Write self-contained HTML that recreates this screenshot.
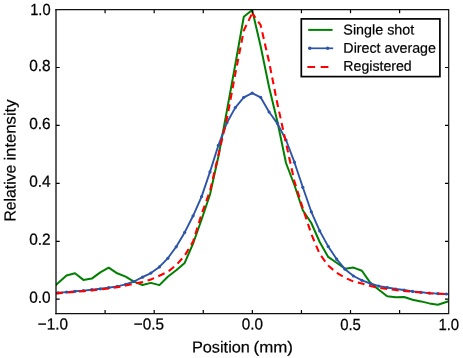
<!DOCTYPE html>
<html><head><meta charset="utf-8"><title>chart</title>
<style>html,body{margin:0;padding:0;background:#fff}svg{display:block;will-change:transform}text{font-family:"Liberation Sans",sans-serif;fill:#000;text-rendering:geometricPrecision}</style></head><body>
<svg width="463" height="358" viewBox="0 0 463 358">
<rect width="463" height="358" fill="#fff"/>
<defs><clipPath id="c"><rect x="56.0" y="9.6" width="392.7" height="304.09999999999997"/></clipPath></defs>
<g clip-path="url(#c)" fill="none" stroke-linejoin="round">
<polyline points="49.6,290.8 58.1,283.1 66.5,275.5 75.0,273.3 83.4,279.9 91.8,278.6 100.3,272.4 108.7,267.7 117.2,273.3 125.6,276.6 134.0,281.6 142.5,285.0 150.9,282.9 159.4,285.1 167.8,276.8 176.2,270.3 184.7,262.9 193.1,243.5 201.6,219.5 210.0,194.5 218.4,156.5 226.9,110.8 235.3,64.5 243.8,16.8 252.2,9.9 260.6,46.0 269.1,87.3 277.5,122.0 286.0,163.0 294.4,185.0 302.8,210.2 311.3,223.0 319.7,242.0 328.2,256.9 336.6,262.7 345.0,268.7 353.5,267.6 361.9,270.8 370.4,282.9 378.8,289.7 387.2,296.2 395.7,297.3 404.1,297.0 412.6,299.8 421.0,301.4 429.4,303.4 437.9,304.7 446.3,302.0 454.8,299.3" stroke="#008000" stroke-width="2.0"/>
<polyline points="49.6,293.6 58.1,292.8 66.5,292.1 75.0,291.3 83.4,290.6 91.8,289.7 100.3,288.8 108.7,287.7 117.2,286.4 125.6,284.4 134.0,281.5 142.5,277.2 150.9,273.1 159.4,266.9 167.8,258.3 176.2,246.8 184.7,232.4 193.1,215.8 201.6,196.6 210.0,171.9 218.4,145.3 226.9,122.7 235.3,107.6 243.8,97.3 252.2,93.1 260.6,97.3 269.1,112.0 277.5,123.6 286.0,140.0 294.4,162.2 302.8,187.3 311.3,211.8 319.7,230.9 328.2,246.4 336.6,259.1 345.0,269.2 353.5,276.0 361.9,280.3 370.4,283.5 378.8,286.1 387.2,287.5 395.7,289.0 404.1,290.0 412.6,291.4 421.0,292.3 429.4,293.1 437.9,293.6 446.3,294.0 454.8,294.4" stroke="#2C55AA" stroke-width="1.9"/>
<g fill="#2C55AA" stroke="none"><circle cx="49.6" cy="293.6" r="1.6"/><circle cx="58.1" cy="292.8" r="1.6"/><circle cx="66.5" cy="292.1" r="1.6"/><circle cx="75.0" cy="291.3" r="1.6"/><circle cx="83.4" cy="290.6" r="1.6"/><circle cx="91.8" cy="289.7" r="1.6"/><circle cx="100.3" cy="288.8" r="1.6"/><circle cx="108.7" cy="287.7" r="1.6"/><circle cx="117.2" cy="286.4" r="1.6"/><circle cx="125.6" cy="284.4" r="1.6"/><circle cx="134.0" cy="281.5" r="1.6"/><circle cx="142.5" cy="277.2" r="1.6"/><circle cx="150.9" cy="273.1" r="1.6"/><circle cx="159.4" cy="266.9" r="1.6"/><circle cx="167.8" cy="258.3" r="1.6"/><circle cx="176.2" cy="246.8" r="1.6"/><circle cx="184.7" cy="232.4" r="1.6"/><circle cx="193.1" cy="215.8" r="1.6"/><circle cx="201.6" cy="196.6" r="1.6"/><circle cx="210.0" cy="171.9" r="1.6"/><circle cx="218.4" cy="145.3" r="1.6"/><circle cx="226.9" cy="122.7" r="1.6"/><circle cx="235.3" cy="107.6" r="1.6"/><circle cx="243.8" cy="97.3" r="1.6"/><circle cx="252.2" cy="93.1" r="1.6"/><circle cx="260.6" cy="97.3" r="1.6"/><circle cx="269.1" cy="112.0" r="1.6"/><circle cx="277.5" cy="123.6" r="1.6"/><circle cx="286.0" cy="140.0" r="1.6"/><circle cx="294.4" cy="162.2" r="1.6"/><circle cx="302.8" cy="187.3" r="1.6"/><circle cx="311.3" cy="211.8" r="1.6"/><circle cx="319.7" cy="230.9" r="1.6"/><circle cx="328.2" cy="246.4" r="1.6"/><circle cx="336.6" cy="259.1" r="1.6"/><circle cx="345.0" cy="269.2" r="1.6"/><circle cx="353.5" cy="276.0" r="1.6"/><circle cx="361.9" cy="280.3" r="1.6"/><circle cx="370.4" cy="283.5" r="1.6"/><circle cx="378.8" cy="286.1" r="1.6"/><circle cx="387.2" cy="287.5" r="1.6"/><circle cx="395.7" cy="289.0" r="1.6"/><circle cx="404.1" cy="290.0" r="1.6"/><circle cx="412.6" cy="291.4" r="1.6"/><circle cx="421.0" cy="292.3" r="1.6"/><circle cx="429.4" cy="293.1" r="1.6"/><circle cx="437.9" cy="293.6" r="1.6"/><circle cx="446.3" cy="294.0" r="1.6"/><circle cx="454.8" cy="294.4" r="1.6"/></g>
<polyline points="49.6,294.0 58.1,293.3 66.5,292.6 75.0,291.9 83.4,291.2 91.8,290.4 100.3,289.5 108.7,288.5 117.2,287.3 125.6,285.6 134.0,283.7 142.5,282.1 150.9,279.5 159.4,275.7 167.8,271.8 176.2,265.1 184.7,255.6 193.1,241.5 201.6,214.0 210.0,191.0 218.4,155.0 226.9,118.6 235.3,73.9 243.8,30.5 252.2,13.2" stroke="#ff0000" stroke-width="2.1" stroke-dasharray="6.9 4.7" stroke-dashoffset="5.30"/>
<polyline points="252.2,13.2 260.6,25.0 269.1,62.0 277.5,104.2 286.0,143.0 294.4,181.2 302.8,208.2 311.3,234.0 319.7,254.0 328.2,265.5 336.6,272.7 345.0,277.8 353.5,281.5 361.9,283.5 370.4,286.0 378.8,287.8 387.2,289.0 395.7,290.0 404.1,291.0 412.6,291.8 421.0,292.5 429.4,293.2 437.9,293.7 446.3,294.1 454.8,294.5" stroke="#ff0000" stroke-width="2.1" stroke-dasharray="6.9 4.7" stroke-dashoffset="1.30"/>
</g>
<path d="M105.09 313.7v-3.7M105.09 9.6v3.7M154.18 313.7v-3.7M154.18 9.6v3.7M203.26 313.7v-3.7M203.26 9.6v3.7M252.35 313.7v-3.7M252.35 9.6v3.7M301.44 313.7v-3.7M301.44 9.6v3.7M350.52 313.7v-3.7M350.52 9.6v3.7M399.61 313.7v-3.7M399.61 9.6v3.7M56.0 299.22h3.7M448.7 299.22h-3.7M56.0 241.30h3.7M448.7 241.30h-3.7M56.0 183.37h3.7M448.7 183.37h-3.7M56.0 125.45h3.7M448.7 125.45h-3.7M56.0 67.52h3.7M448.7 67.52h-3.7" stroke="#000" stroke-width="1.2" fill="none"/>
<path d="M56.0 9.0V314.3" stroke="#000" stroke-width="1.25" fill="none"/>
<path d="M448.7 9.0V314.3M55.4 9.6H449.3M55.4 313.7H449.3" stroke="#111" stroke-width="1.2" fill="none"/>
<text transform="translate(50.6 302.7) rotate(0.03)" font-size="16.0" text-anchor="end" textLength="21.4" lengthAdjust="spacingAndGlyphs" stroke="#000" stroke-width="0.25">0.0</text>
<text transform="translate(50.6 244.7) rotate(0.03)" font-size="16.0" text-anchor="end" textLength="21.4" lengthAdjust="spacingAndGlyphs" stroke="#000" stroke-width="0.25">0.2</text>
<text transform="translate(50.6 186.8) rotate(0.03)" font-size="16.0" text-anchor="end" textLength="21.4" lengthAdjust="spacingAndGlyphs" stroke="#000" stroke-width="0.25">0.4</text>
<text transform="translate(50.6 128.9) rotate(0.03)" font-size="16.0" text-anchor="end" textLength="21.4" lengthAdjust="spacingAndGlyphs" stroke="#000" stroke-width="0.25">0.6</text>
<text transform="translate(50.6 71.0) rotate(0.03)" font-size="16.0" text-anchor="end" textLength="21.4" lengthAdjust="spacingAndGlyphs" stroke="#000" stroke-width="0.25">0.8</text>
<text transform="translate(50.6 14.9) rotate(0.03)" font-size="16.0" text-anchor="end" textLength="20.4" lengthAdjust="spacingAndGlyphs" stroke="#000" stroke-width="0.25">1.0</text>
<text transform="translate(52.85 329.6) rotate(0.03)" font-size="16.0" text-anchor="middle" textLength="30.25" lengthAdjust="spacingAndGlyphs" stroke="#000" stroke-width="0.25">−1.0</text>
<text transform="translate(148.95 329.6) rotate(0.03)" font-size="16.0" text-anchor="middle" textLength="30.2" lengthAdjust="spacingAndGlyphs" stroke="#000" stroke-width="0.25">−0.5</text>
<text transform="translate(252.3 329.6) rotate(0.03)" font-size="16.0" text-anchor="middle" textLength="21.2" lengthAdjust="spacingAndGlyphs" stroke="#000" stroke-width="0.25">0.0</text>
<text transform="translate(350.5 329.6) rotate(0.03)" font-size="16.0" text-anchor="middle" textLength="20.7" lengthAdjust="spacingAndGlyphs" stroke="#000" stroke-width="0.25">0.5</text>
<text transform="translate(448.8 329.6) rotate(0.03)" font-size="16.0" text-anchor="middle" textLength="20.7" lengthAdjust="spacingAndGlyphs" stroke="#000" stroke-width="0.25">1.0</text>
<text transform="translate(191.9 352.4) rotate(0.03)" font-size="16.0" textLength="58.0" lengthAdjust="spacingAndGlyphs" stroke="#000" stroke-width="0.2">Position</text>
<text transform="translate(253.6 352.4) rotate(0.03)" font-size="16.0" textLength="39.4" lengthAdjust="spacingAndGlyphs" stroke="#000" stroke-width="0.2">(mm)</text>
<text transform="translate(15.5 221.6) rotate(-89.97)" font-size="16.0" textLength="57.0" lengthAdjust="spacingAndGlyphs" stroke="#000" stroke-width="0.2">Relative</text>
<text transform="translate(15.5 160.6) rotate(-89.97)" font-size="16.0" textLength="61.2" lengthAdjust="spacingAndGlyphs" stroke="#000" stroke-width="0.2">intensity</text>
<rect x="301.3" y="18.9" width="138.6" height="57.7" fill="#fff" stroke="#000" stroke-width="1.7"/>
<path d="M308.2 29.9H332.6" stroke="#008000" stroke-width="2.0"/>
<path d="M308.2 48.3H333.2" stroke="#2C55AA" stroke-width="1.7"/><circle cx="309.8" cy="48.3" r="1.7" fill="#2C55AA"/><circle cx="327.7" cy="48.3" r="1.7" fill="#2C55AA"/>
<path d="M307.4 67.1H333" stroke="#ff0000" stroke-width="2.0" stroke-dasharray="7.7 5.6"/>
<text transform="translate(343.35 34.5) rotate(0.03)" font-size="14.2" textLength="70.9" lengthAdjust="spacingAndGlyphs" stroke="#000" stroke-width="0.2">Single shot</text>
<text transform="translate(343.35 52.7) rotate(0.03)" font-size="14.2" textLength="92.6" lengthAdjust="spacingAndGlyphs" stroke="#000" stroke-width="0.2">Direct average</text>
<text transform="translate(343.35 70.7) rotate(0.03)" font-size="14.2" textLength="68.4" lengthAdjust="spacingAndGlyphs" stroke="#000" stroke-width="0.2">Registered</text>
</svg></body></html>
